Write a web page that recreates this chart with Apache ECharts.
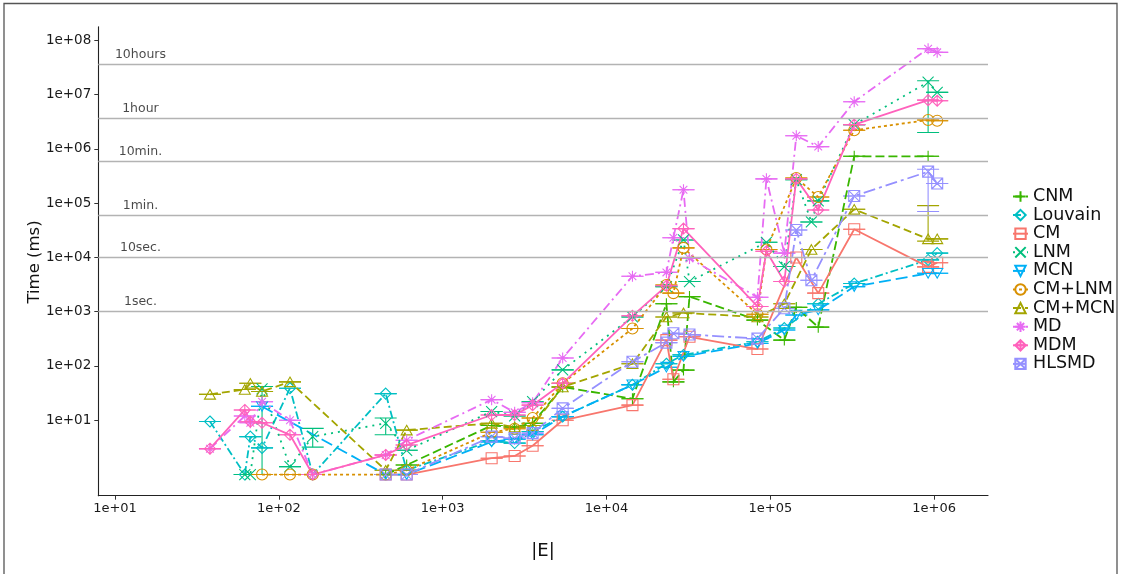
<!DOCTYPE html>
<html>
<head>
<meta charset="utf-8">
<script src="https://cdn.jsdelivr.net/npm/echarts@6/dist/echarts.min.js"></script>
<style>
  html, body { margin: 0; padding: 0; background: #fff; }
  #chart { width: 1125px; height: 574px; }
</style>
</head>
<body>
<div id="chart"></div>
<script>
// Number of edges of each benchmark graph (x positions, shared by all algorithms)
const edges = [38, 62, 67, 79, 117, 161, 449, 603, 1990, 2750, 3540, 5400, 14400, 23200, 25600,
               29500, 32100, 83400, 94600, 121700, 144000, 178000, 196000, 325000, 918000, 1043000];

// Mean running time in ms per graph (null = not measured)
const timeCNM     = [null, null, null, null, null, null, 1, 1.5, 8, 7.5, 8.8, 41, 25, 1400, 51, 84, 1900, 700, null, 300, 1200, null, 520, 7.3e5, 7.3e5, null];
const timeLouvain = [9.5, 1, 5, 3.1, 39, 1, 31, 1.2, 4.2, 3.8, 6.2, 11.7, 45, 110, null, 160, null, 280, null, 500, null, null, 1400, 3300, 9000, 12000];
const timeCM      = [null, null, null, null, null, null, 1, 1, 2.0, 2.2, 3.4, 10, 19, 300, 57, null, 345, 205, null, null, 1.0e4, null, 2200, 3.3e4, 6700, 8000];
const timeLNM     = [null, 1, 1, 38, 1.4, 5, 8.8, 2.8, 14.5, 12, 22, 85, 800, 2900, null, 2.1e4, 3600, null, 1.9e4, 6800, 2.7e5, 4.5e4, 1.1e5, 2.8e6, 1.7e7, 1.1e7];
const timeMCN     = [null, null, null, 18, null, null, 1, 1, 4.0, 4.5, 5.4, 11.7, 45, 95, null, 150, null, 260, null, 460, 870, null, 1080, 2900, 5100, 5100];
const timeCMLNM   = [null, null, null, 1, 1, 1, 1, 1.2, 6, 7, 11, 48, 490, 3100, 2200, 1.5e4, null, 900, 1.4e4, null, 2.9e5, null, 1.3e5, 2.2e6, 3.4e6, 3.3e6];
const timeCMMCN   = [30, 37, 48, 34, 51, null, 1.2, 6.6, 8.8, 7.5, 8, 41, 110, 800, null, 950, null, 800, null, 1400, null, 1.4e4, null, 7.7e4, 2.2e4, 2.2e4];
const timeMD      = [3, 12, 9, 22, 10, 1, 2.3, 4.3, 24, 14, 21, 140, 4500, 5300, 2.3e4, 1.76e5, 9600, 1850, 2.8e5, 1.2e4, 1.74e6, null, 1.1e6, 7.4e6, 7e7, 6e7];
const timeMDM     = [3, 15.5, 9.4, 9, 5.4, 1, 2.3, 3.5, 12.5, 12.5, 19, 48, 840, 3000, null, 3.4e4, null, 1250, 1.3e4, 3600, 2.8e5, null, 7.5e4, 2.8e6, 7.9e6, 7.7e6];
const timeHLSMD   = [null, null, null, null, null, null, 1, 1, 5, 4.7, 5.8, 16.6, 120, 270, 400, null, 380, 320, null, 1160, 3.2e4, 3800, null, 1.35e5, 3.8e5, 2.3e5];

// Spread of repeated runs where it is wider than the marker: [algorithm, graph index, low, high]
const spreads = [
  ['LNM', 3, 1, 42],
  ['LNM', 5, 3.2, 7.1],
  ['LNM', 6, 5.4, 11],
  ['LNM', 24, 2e6, 1.8e7],
  ['HLSMD', 24, 7e4, 4.2e5],
  ['CM+MCN', 24, 2e4, 9e4]
];

// Reference durations drawn as horizontal guides
const refLines = [
  { text: '10hours', ms: 3.6e7 },
  { text: '1hour',   ms: 3.6e6 },
  { text: '10min.',  ms: 6e5 },
  { text: '1min.',   ms: 6e4 },
  { text: '10sec.',  ms: 1e4 },
  { text: '1sec.',   ms: 1e3 }
];

const xTicks = [1e1, 1e2, 1e3, 1e4, 1e5, 1e6];
const yTicks = [1e1, 1e2, 1e3, 1e4, 1e5, 1e6, 1e7, 1e8];

const algorithms = ['CNM', 'Louvain', 'CM', 'LNM', 'MCN', 'CM+LNM', 'CM+MCN', 'MD', 'MDM', 'HLSMD'];
const times = {
  'CNM': timeCNM, 'Louvain': timeLouvain, 'CM': timeCM, 'LNM': timeLNM, 'MCN': timeMCN,
  'CM+LNM': timeCMLNM, 'CM+MCN': timeCMMCN, 'MD': timeMD, 'MDM': timeMDM, 'HLSMD': timeHLSMD
};

// Visual encoding per algorithm: colour, marker outline, dash pattern
const styles = {
  'CNM':     { color: '#39B600', symbol: 'path://M5,0L5,10M0,5L10,5', dash: [9, 4] },
  'Louvain': { color: '#00BFC4', symbol: 'path://M5,0L10,5L5,10L0,5Z', dash: [8, 3, 2, 3] },
  'CM':      { color: '#F8766D', symbol: 'path://M0,0L10,0L10,10L0,10Z', dash: 'solid' },
  'LNM':     { color: '#00BF7D', symbol: 'path://M0,0L10,10M10,0L0,10', dash: [2, 5] },
  'MCN':     { color: '#00B0F6', symbol: 'path://M0,0L10,0L5,8.7Z', dash: [12, 5] },
  'CM+LNM':  { color: '#D89000', symbol: 'path://M0,5A5,5,0,1,1,10,5A5,5,0,1,1,0,5Z', dash: [3, 3] },
  'CM+MCN':  { color: '#A3A500', symbol: 'path://M5,0L10,8.7L0,8.7Z', dash: [8, 4] },
  'MD':      { color: '#E76BF3', symbol: 'path://M5,0L5,10M0,5L10,5M1.5,1.5L8.5,8.5M8.5,1.5L1.5,8.5', dash: [9, 4, 2, 4] },
  'MDM':     { color: '#FF62BC', symbol: 'path://M5,0L10,5L5,10L0,5ZM5,0L5,10M0,5L10,5', dash: 'solid' },
  'HLSMD':   { color: '#9590FF', symbol: 'path://M0,0L10,0L10,10L0,10ZM0,0L10,10M10,0L0,10', dash: [12, 4, 3, 4] }
};

const FONT = 'DejaVu Sans';
const REF_LABEL_X = 14.3;   // horizontal anchor of the guide captions (in |E| units)
const CAP_HALF = 11;        // half width of error bar caps, px

function expLabel(v) {
  const e = Math.round(Math.log10(v));
  return '1e+' + String(e).padStart(2, '0');
}

const lineSeries = algorithms.map(name => {
  const s = styles[name];
  const data = [];
  times[name].forEach((t, i) => { if (t != null) data.push([edges[i], t]); });
  return {
    name, type: 'line', data, z: 3,
    symbol: s.symbol, symbolSize: 11, symbolKeepAspect: true, showSymbol: true,
    itemStyle: { color: 'transparent', borderColor: s.color, borderWidth: 1.1 },
    lineStyle: { color: s.color, width: 1.8, type: s.dash },
    emphasis: { disabled: true },
    animation: false
  };
});

const barSeries = algorithms.map(name => {
  const s = styles[name];
  const data = [];
  times[name].forEach((t, i) => {
    if (t == null) return;
    const sp = spreads.find(r => r[0] === name && r[1] === i);
    data.push(sp ? [edges[i], sp[2], sp[3]] : [edges[i], t, t]);
  });
  return {
    name, type: 'custom', data, z: 2, clip: true,
    encode: { x: 0, y: [1, 2] },
    renderItem(params, api) {
      const x = api.value(0);
      const pLo = api.coord([x, api.value(1)]);
      const pHi = api.coord([x, api.value(2)]);
      const style = { stroke: s.color, lineWidth: 1.1, fill: null };
      const children = [
        { type: 'line', shape: { x1: pLo[0] - CAP_HALF, y1: pLo[1], x2: pLo[0] + CAP_HALF, y2: pLo[1] }, style },
        { type: 'line', shape: { x1: pHi[0] - CAP_HALF, y1: pHi[1], x2: pHi[0] + CAP_HALF, y2: pHi[1] }, style }
      ];
      if (Math.abs(pHi[1] - pLo[1]) > 0.5) {
        children.push({ type: 'line', shape: { x1: pLo[0], y1: pLo[1], x2: pHi[0], y2: pHi[1] }, style });
      }
      return { type: 'group', children };
    },
    animation: false
  };
});

const guideSeries = {
  name: 'guides', type: 'scatter', z: 1, silent: true,
  data: refLines.map(r => ({ value: [REF_LABEL_X, r.ms], label: { formatter: r.text } })),
  symbolSize: 0,
  label: {
    show: true, position: 'top', distance: 3,
    fontFamily: FONT, fontSize: 12.5, color: '#1a1a1a'
  },
  markLine: {
    silent: true, symbol: 'none', animation: false,
    label: { show: false },
    lineStyle: { color: '#b3b3b3', width: 1.3, type: 'solid' },
    data: refLines.map(r => ({ yAxis: r.ms }))
  },
  animation: false
};

const chart = echarts.init(document.getElementById('chart'), null, { renderer: 'canvas' });
chart.setOption({
  backgroundColor: '#fff',
  animation: false,
  grid: {
    left: 98.3, right: 137, top: 26.7, bottom: 78.3,
    containLabel: false, outerBoundsMode: 'none'
  },
  xAxis: {
    type: 'log', logBase: 10, min: 7.91, max: 2.13e6,
    axisLine: { show: true, lineStyle: { color: '#222', width: 1.1 } },
    axisTick: { show: true, length: 4, customValues: xTicks, lineStyle: { color: '#333' } },
    axisLabel: { customValues: xTicks, formatter: expLabel, fontFamily: FONT, fontSize: 13, color: '#1a1a1a', margin: 6 },
    splitLine: { show: false },
    minorTick: { show: false }
  },
  yAxis: {
    type: 'log', logBase: 10, min: 0.408, max: 1.78e8,
    axisLine: { show: true, lineStyle: { color: '#222', width: 1.1 } },
    axisTick: { show: true, length: 4, customValues: yTicks, lineStyle: { color: '#333' } },
    axisLabel: { customValues: yTicks, formatter: expLabel, fontFamily: FONT, fontSize: 13.5, color: '#1a1a1a', margin: 7 },
    splitLine: { show: false },
    minorTick: { show: false }
  },
  legend: {
    data: algorithms,
    orient: 'vertical', left: 1007, top: 182.5,
    itemWidth: 15, itemHeight: 13, itemGap: 0.6,
    textStyle: { fontFamily: FONT, fontSize: 17.5, color: '#111', lineHeight: 18 },
    selectedMode: false
  },
  graphic: [
    { type: 'rect', shape: { x: 4, y: 3.5, width: 1113, height: 600 },
      style: { fill: null, stroke: '#555', lineWidth: 1.3 }, silent: true },
    { type: 'text', x: 35, y: 262, rotation: Math.PI / 2,
      style: { text: 'Time (ms)', font: '16.5px "DejaVu Sans"', fill: '#111', align: 'center', verticalAlign: 'middle' } },
    { type: 'text', x: 543, y: 551,
      style: { text: '|E|', font: '18px "DejaVu Sans"', fill: '#111', align: 'center', verticalAlign: 'middle' } }
  ],
  series: [guideSeries, ...lineSeries, ...barSeries]
});
</script>
</body>
</html>
